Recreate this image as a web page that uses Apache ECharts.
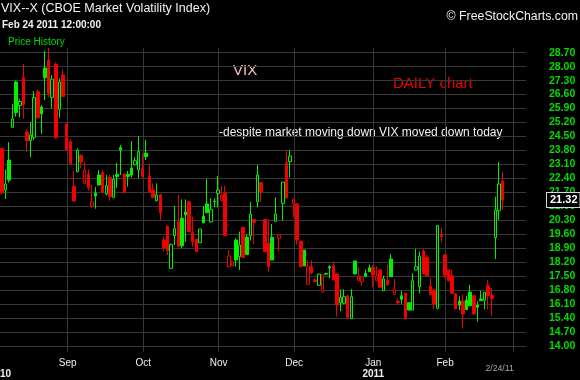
<!DOCTYPE html>
<html><head><meta charset="utf-8">
<script src="https://cdn.jsdelivr.net/npm/echarts@6/dist/echarts.min.js"></script>
<style>html,body{margin:0;padding:0;background:#000}#c{width:580px;height:380px}</style>
</head><body><div id="c"></div>
<script>
const dates = [
'2010-08-06','2010-08-09','2010-08-10','2010-08-11','2010-08-12','2010-08-13','2010-08-16','2010-08-17','2010-08-18','2010-08-19','2010-08-20','2010-08-23','2010-08-24','2010-08-25','2010-08-26','2010-08-27','2010-08-30','2010-08-31',
'2010-09-01','2010-09-02','2010-09-03','2010-09-07','2010-09-08','2010-09-09','2010-09-10','2010-09-13','2010-09-14','2010-09-15','2010-09-16','2010-09-17','2010-09-20','2010-09-21','2010-09-22','2010-09-23','2010-09-24','2010-09-27','2010-09-28','2010-09-29','2010-09-30',
'2010-10-01','2010-10-04','2010-10-05','2010-10-06','2010-10-07','2010-10-08','2010-10-11','2010-10-12','2010-10-13','2010-10-14','2010-10-15','2010-10-18','2010-10-19','2010-10-20','2010-10-21','2010-10-22','2010-10-25','2010-10-26','2010-10-27','2010-10-28','2010-10-29',
'2010-11-01','2010-11-02','2010-11-03','2010-11-04','2010-11-05','2010-11-08','2010-11-09','2010-11-10','2010-11-11','2010-11-12','2010-11-15','2010-11-16','2010-11-17','2010-11-18','2010-11-19','2010-11-22','2010-11-23','2010-11-24','2010-11-26','2010-11-29','2010-11-30',
'2010-12-01','2010-12-02','2010-12-03','2010-12-06','2010-12-07','2010-12-08','2010-12-09','2010-12-10','2010-12-13','2010-12-14','2010-12-15','2010-12-16','2010-12-17','2010-12-20','2010-12-21','2010-12-22','2010-12-23','2010-12-27','2010-12-28','2010-12-29','2010-12-30','2010-12-31',
'2011-01-03','2011-01-04','2011-01-05','2011-01-06','2011-01-07','2011-01-10','2011-01-11','2011-01-12','2011-01-13','2011-01-14','2011-01-18','2011-01-19','2011-01-20','2011-01-21','2011-01-24','2011-01-25','2011-01-26','2011-01-27','2011-01-28','2011-01-31',
'2011-02-01','2011-02-02','2011-02-03','2011-02-04','2011-02-07','2011-02-08','2011-02-09','2011-02-10','2011-02-11','2011-02-14','2011-02-15','2011-02-16','2011-02-17','2011-02-18','2011-02-22','2011-02-23','2011-02-24','2011-02-25','2011-02-28',
'2011-03-01','2011-03-02','2011-03-03','2011-03-04'
];
const opens = [
23.89,21.82,23.32,24.96,27.23,26.05,27.45,24.73,24.30,24.46,
26.75,25.98,27.93,28.33,26.46,28.13,25.86,27.58,25.13,24.24,
21.99,22.74,23.54,22.15,22.62,21.02,21.67,22.57,22.69,21.63,
22.45,21.45,22.60,23.94,22.62,22.59,22.92,23.09,22.82,22.90,
23.66,22.52,21.82,21.28,21.58,19.31,20.01,17.89,19.53,20.23,
20.40,20.72,21.23,19.70,19.36,19.18,20.51,21.12,20.23,21.22,
21.65,21.28,21.65,17.98,18.03,19.31,18.48,19.95,19.45,19.53,
20.34,21.23,22.20,20.34,19.15,19.45,20.25,19.40,21.15,23.19,
23.24,21.15,21.12,19.26,18.81,17.09,17.97,17.31,17.04,16.72,
17.60,17.97,18.01,17.61,16.17,16.14,16.52,15.38,18.26,17.27,
17.22,17.64,17.92,17.94,17.27,17.81,16.77,17.31,18.36,16.59,
16.25,16.52,16.64,16.17,15.80,17.81,16.97,18.76,18.45,17.00,
16.81,15.89,19.61,18.57,17.81,17.52,16.62,16.25,16.25,16.30,
16.70,16.52,16.05,16.35,16.30,17.02,16.55,19.43,20.78,22.27
];
const closes = [
21.68,22.12,22.32,25.38,25.70,26.25,26.10,24.29,24.58,26.45,
25.44,25.64,27.45,26.66,27.38,24.44,27.23,26.50,23.82,23.14,
21.27,23.82,23.22,22.82,21.94,21.22,21.52,22.07,21.69,22.04,
21.48,22.35,22.49,23.82,21.69,22.50,22.57,23.29,23.74,22.49,
23.49,21.73,21.45,21.57,20.68,18.93,18.78,19.08,19.88,18.98,
19.02,20.57,19.73,19.23,18.73,19.86,20.18,20.68,20.85,21.26,
21.82,21.57,19.53,18.51,18.23,18.31,19.06,18.44,18.59,20.60,
20.20,22.57,21.73,18.73,17.98,18.31,20.61,19.56,22.22,21.42,
23.52,21.37,19.31,17.97,18.02,18.00,17.67,17.22,17.61,17.57,
17.64,17.91,17.31,16.05,16.42,16.47,15.42,16.47,17.61,17.52,
17.47,17.49,17.72,17.56,17.50,16.94,17.36,17.06,17.47,16.84,
16.17,16.34,15.38,15.80,17.27,17.97,18.50,17.61,17.52,16.59,
16.10,20.03,19.48,17.56,17.27,16.64,15.86,16.05,15.60,15.82,
16.02,15.60,15.94,16.27,16.69,16.52,16.39,20.82,22.12,21.32
];
const lows = [
21.60,21.37,22.19,24.96,25.50,25.46,25.40,23.74,23.46,24.32,
25.41,24.64,26.33,26.46,25.91,24.40,25.44,26.50,23.80,23.10,
21.22,22.70,22.90,22.12,21.78,20.93,20.88,22.07,21.69,21.55,
21.28,21.40,21.93,22.57,21.69,21.99,22.45,23.05,22.40,22.45,
23.32,21.70,21.40,21.25,20.30,18.73,18.56,17.89,19.06,18.95,
18.90,19.23,19.73,18.98,18.73,19.18,20.15,20.68,20.18,20.95,
20.95,21.25,19.53,17.98,18.00,17.98,17.81,18.44,18.59,19.28,
19.11,20.95,21.23,18.73,17.72,18.31,20.23,18.73,20.28,21.42,
22.45,20.45,19.10,17.97,18.00,17.09,17.60,17.20,17.04,16.67,
17.55,17.39,17.31,15.47,15.75,16.10,15.42,15.38,17.61,17.27,
17.02,17.47,17.72,16.94,17.27,16.94,16.77,17.02,17.47,16.59,
16.10,16.10,15.33,15.80,15.80,17.81,16.64,17.61,17.52,16.55,
15.85,15.85,19.18,17.40,17.26,16.64,15.86,15.80,14.88,15.82,
16.02,15.60,15.22,16.27,15.84,15.84,15.52,18.36,20.31,20.82
];
const highs = [
23.95,22.85,24.22,26.13,27.30,26.36,28.13,24.86,25.23,26.78,
26.83,26.08,28.79,28.94,27.58,28.20,27.42,27.83,25.15,24.36,
22.77,23.91,23.61,23.22,22.85,22.07,21.97,22.82,22.82,22.57,
22.57,22.57,23.19,24.07,22.62,22.77,24.27,23.45,24.52,23.66,
24.33,23.07,22.15,22.15,21.62,19.48,20.01,19.15,21.02,21.57,
21.35,21.35,21.23,20.48,19.36,19.86,21.02,22.37,21.40,21.40,
22.52,22.02,22.02,18.81,18.23,19.40,19.73,19.95,19.60,21.23,
20.34,23.07,22.20,20.34,20.34,20.11,21.45,19.56,22.22,23.82,
23.82,21.37,21.12,19.26,18.81,18.30,18.30,17.40,17.61,17.57,
17.65,18.06,18.23,17.61,16.84,16.84,16.52,16.84,18.26,17.94,
17.47,17.84,18.09,18.06,18.00,17.81,17.52,18.06,18.61,17.36,
16.40,16.76,16.64,16.17,17.64,18.86,18.73,18.89,18.56,17.39,
16.84,20.06,19.95,18.60,17.81,17.81,16.62,16.52,16.60,16.52,
17.06,16.52,16.25,16.77,16.69,17.30,16.90,21.48,23.22,22.72
];
const yMin = 14.0, yMax = 28.7, yStep = 0.7;
const monthNames = ['Jan','Feb','Mar','Apr','May','Jun','Jul','Aug','Sep','Oct','Nov','Dec'];
const lastDateLabel = '2/24/11';

const GREEN = '#00f000', RED = '#f00000', GRID = '#383838', LABELGREEN = '#00dc00';
const FONT = '"Liberation Sans", Arial, sans-serif';

const upData = [], downData = [];
for (let i = 0; i < opens.length; i++) {
  const prev = i > 0 ? closes[i - 1] : opens[i];
  const item = [opens[i], closes[i], lows[i], highs[i]];
  if (closes[i] >= prev) { upData.push(item); downData.push('-'); }
  else { downData.push(item); upData.push('-'); }
}
const lastIdx = closes.length - 1;
const lastClose = closes[lastIdx];

function isMonthStart(i) {
  return i > 0 && dates[i].slice(5, 7) !== dates[i - 1].slice(5, 7);
}

const chart = echarts.init(document.getElementById('c'), null, {renderer: 'canvas'});
chart.setOption({
  backgroundColor: '#000',
  animation: false,
  grid: [
    {left: -2.1, right: 54, top: 52.7, bottom: 34, containLabel: false},
    {left: -0.3, right: 55.8, top: 48, bottom: 28, containLabel: false}
  ],
  xAxis: [
    {type: 'category', gridIndex: 0, data: dates, boundaryGap: true, show: false},
    {type: 'category', gridIndex: 1, data: dates, boundaryGap: false,
      axisLine: {show: false}, axisTick: {show: false},
      splitLine: {show: true, interval: (i) => isMonthStart(i), lineStyle: {color: GRID, width: 1}},
      axisLabel: {
        interval: 0, margin: 6, color: '#f0f0f0', fontFamily: FONT, fontSize: 10, lineHeight: 11,
        formatter: function (v, i) {
          if (i === lastIdx) return '{d|' + lastDateLabel + '}';
          if (!isMonthStart(i)) return '';
          const m = parseInt(v.slice(5, 7), 10);
          if (m === 3) return '';
          if (m === 1) return monthNames[0] + '\n{y|' + v.slice(0, 4) + '}';
          return monthNames[m - 1];
        },
        rich: {
          y: {fontFamily: FONT, fontSize: 10, fontWeight: 'bold', color: '#f0f0f0', lineHeight: 11},
          d: {fontFamily: FONT, fontSize: 8.7, color: '#a8a8a8', lineHeight: 22, padding: [0, 6, 0, 0]}
        }
      }
    }
  ],
  yAxis: [
    {type: 'value', gridIndex: 0, position: 'right', min: yMin, max: yMax, interval: yStep,
      axisLine: {show: false}, axisTick: {show: false},
      splitLine: {show: true, lineStyle: {color: GRID, width: 1}},
      axisLabel: {margin: 23, color: LABELGREEN, fontFamily: FONT, fontSize: 10.5, fontWeight: 'bold',
        formatter: (v) => v.toFixed(2)}
    },
    {type: 'value', gridIndex: 1, show: false, splitLine: {show: false}}
  ],
  series: [
    {type: 'candlestick', name: 'up', xAxisIndex: 0, yAxisIndex: 0, data: upData, barWidth: 3, clip: false,
      itemStyle: {color: '#000', color0: GREEN, borderColor: GREEN, borderColor0: GREEN, borderWidth: 1}},
    {type: 'candlestick', name: 'down', xAxisIndex: 0, yAxisIndex: 0, data: downData, barWidth: 3, clip: false,
      itemStyle: {color: '#000', color0: RED, borderColor: RED, borderColor0: RED, borderWidth: 1}},
    {type: 'line', name: 'last', xAxisIndex: 0, yAxisIndex: 0, data: [], silent: true,
      markLine: {
        silent: true, symbol: ['none', 'none'], animation: false,
        lineStyle: {color: 'rgba(0,0,0,0)', width: 1, type: 'solid'},
        data: [{yAxis: lastClose}],
        label: {show: true, position: 'end', distance: 21, formatter: lastClose.toFixed(2),
          color: '#ffffff', fontFamily: FONT, fontSize: 11, fontWeight: 'bold',
          backgroundColor: '#000', borderColor: '#d8d8d8', borderWidth: 1, padding: [2, 2, 1, 3]}
      }
    }
  ],
  graphic: [
    {type: 'text', x: 1, y: 9, style: {text: 'VIX--X (CBOE Market Volatility Index)', fill: '#f2f2f2', font: '12.5px ' + FONT, textVerticalAlign: 'middle'}},
    {type: 'text', x: 2, y: 25, style: {text: 'Feb 24 2011 12:00:00', fill: '#f2f2f2', font: 'bold 10px ' + FONT, textVerticalAlign: 'middle'}},
    {type: 'text', x: 8, y: 42, style: {text: 'Price History', fill: LABELGREEN, font: '10px ' + FONT, textVerticalAlign: 'middle'}},
    {type: 'text', x: 578, y: 17, style: {text: '\u00a9 FreeStockCharts.com', fill: '#f2f2f2', font: '12.3px ' + FONT, textAlign: 'right', textVerticalAlign: 'middle'}},
    {type: 'text', x: 233, y: 71, style: {text: 'VIX', fill: '#f4c4bc', font: '15px ' + FONT, textVerticalAlign: 'middle'}},
    {type: 'text', x: 393, y: 84, style: {text: 'DAILY chart', fill: '#f00000', font: '15px ' + FONT, textVerticalAlign: 'middle'}},
    {type: 'text', x: 219, y: 132.5, style: {text: '-despite market moving down VIX moved down today', fill: '#f2f2f2', font: '12px ' + FONT, textVerticalAlign: 'middle'}},
    {type: 'text', x: 11, y: 374.5, style: {text: '2010', fill: '#f0f0f0', font: 'bold 10px ' + FONT, textAlign: 'right', textVerticalAlign: 'middle'}}
  ]
});
</script></body></html>
